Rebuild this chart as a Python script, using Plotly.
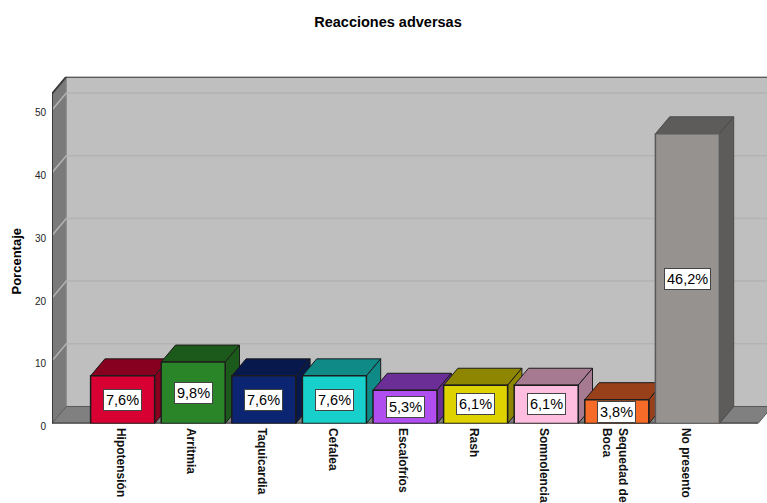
import plotly.graph_objects as go

categories = ["Hipotensión", "Arritmia", "Taquicardia", "Cefalea", "Escalofríos", "Rash",
              "Somnolencia", "Sequedad de<br>Boca", "No presento"]
values = [7.6, 9.8, 7.6, 7.6, 5.3, 6.1, 6.1, 3.8, 46.2]
labels = ["7,6%", "9,8%", "7,6%", "7,6%", "5,3%", "6,1%", "6,1%", "3,8%", "46,2%"]
front_colors = ["#D80032", "#2A8529", "#0C2573", "#18D0CB", "#B04EF0", "#DED200", "#FFBEDF", "#F56B27", "#95928F"]
shade_colors = ["#87001F", "#1C5A1B", "#07184C", "#0F8A87", "#6B2D96", "#8E8600", "#A67B91", "#984019", "#5E5C5A"]
y_ticks = [0, 10, 20, 30, 40, 50]

W, H = 767, 503
PX_X, PX_Y = 70.6, 6.27
LEFT, BOTTOM = 52, 423.5
DX, DY = 14.3 / PX_X, 17 / PX_Y
X0, Y1 = -1, 52.6
X1 = X0 + (W - LEFT) / PX_X
FLOOR_END = 9
BAR_W = 64 / PX_X
EDGE = "#1c1c1c"
x_range = [X0, X1]
y_range = [0, Y1 + DY]

domain_x = [LEFT / W, 1]
domain_y = [1 - BOTTOM / H, 1 - (BOTTOM - y_range[1] * PX_Y) / H]


def poly(xs, ys, fill, line, width=1):
    return go.Scatter(x=xs, y=ys, mode="lines", fill="toself", fillcolor=fill,
                      line=dict(color=line, width=width), hoverinfo="skip",
                      showlegend=False, cliponaxis=False)


def seg(xs, ys, color, width=1):
    return go.Scatter(x=xs, y=ys, mode="lines", line=dict(color=color, width=width),
                      hoverinfo="skip", showlegend=False, cliponaxis=False)


fig = go.Figure()
# walls
fig.add_trace(poly([X0 + DX, FLOOR_END + DX, FLOOR_END + DX, X0 + DX, X0 + DX],
                   [DY, DY, Y1 + DY, Y1 + DY, DY], "#BFBFBF", "#BFBFBF"))
fig.add_trace(poly([X0, X0 + DX, X0 + DX, X0, X0], [0, DY, Y1 + DY, Y1, 0], "#7A7A7A", "#8A8A8A"))
fig.add_trace(poly([X0, FLOOR_END, FLOOR_END + DX, X0 + DX, X0], [0, 0, DY, DY, 0], "#808080", "#5a5a5a"))
# gridlines
for t in y_ticks[1:]:
    fig.add_trace(seg([X0, X0 + DX, FLOOR_END + DX], [t, t + DY, t + DY], "#B3B3B3", 1.5))
# border lines
fig.add_trace(seg([X0, X0, X0 + DX, FLOOR_END + DX], [0, Y1, Y1 + DY, Y1 + DY], "#3a3a3a", 2))
fig.add_trace(seg([X0, FLOOR_END], [0, 0], "#3a3a3a", 2))
# bar top and side faces
for i, v in enumerate(values):
    l, r = i - BAR_W / 2, i + BAR_W / 2
    edge = "#4a4a4a" if i == len(values) - 1 else EDGE
    fig.add_trace(poly([l, r, r + DX, l + DX, l], [v, v, v + DY, v + DY, v], shade_colors[i], edge))
    fig.add_trace(poly([r, r + DX, r + DX, r, r], [0, DY, v + DY, v, 0], shade_colors[i], edge))
# bar fronts
fig.add_trace(go.Bar(x=list(range(len(values))), y=values, width=BAR_W,
                     marker=dict(color=front_colors,
                                 line=dict(color=[EDGE] * 8 + ["#5a5a5a"], width=1.5)),
                     xaxis="x2", yaxis="y2", showlegend=False, hoverinfo="skip", cliponaxis=False))

annotations = [dict(x=i, y=v / 2, xref="x2", yref="y2", text=labels[i], showarrow=False,
                    font=dict(family="Liberation Sans", size=14.5, color="#000000"),
                    bgcolor="#FFFFFF", bordercolor="#444444", borderwidth=1, borderpad=2)
               for i, v in enumerate(values)]
annotations.append(dict(x=15.5 / W, y=1 - 262 / H, xref="paper", yref="paper", text="<b>Porcentaje</b>",
                        textangle=-90, showarrow=False, xanchor="center", yanchor="middle",
                        font=dict(family="Liberation Sans", size=13, color="#000000")))

fig.update_layout(
    width=W, height=H, margin=dict(l=0, r=0, t=0, b=0, autoexpand=False),
    paper_bgcolor="#FFFFFF", plot_bgcolor="#FFFFFF",
    title=dict(text="<b>Reacciones adversas</b>", x=388 / W, xanchor="center", y=1 - 22 / H, yanchor="middle",
               font=dict(family="Liberation Sans", size=14.5, color="#000000")),
    annotations=annotations,
    xaxis=dict(domain=domain_x, range=x_range, tickmode="array", tickvals=list(range(len(values))),
               ticktext=[f"<b>{c}</b>" for c in categories], tickangle=90, showgrid=False, zeroline=False,
               ticks="outside", ticklen=1, tickcolor="rgba(0,0,0,0)", ticklabelshift=-2,
               tickfont=dict(family="Liberation Sans", size=12, color="#111111"), automargin=False),
    yaxis=dict(domain=domain_y, range=y_range, tickmode="array", tickvals=y_ticks, showgrid=False, zeroline=False,
               ticks="outside", ticklen=3, tickcolor="rgba(0,0,0,0)", ticklabelshift=3,
               tickfont=dict(family="Liberation Sans", size=10, color="#222222"), automargin=False),
    xaxis2=dict(domain=domain_x, range=x_range, overlaying="x", visible=False),
    yaxis2=dict(domain=domain_y, range=y_range, overlaying="y", visible=False),
)
fig.write_html("out.html", config={"displayModeBar": False},
               post_script="document.body.style.margin='0';document.documentElement.style.overflow='hidden';")
